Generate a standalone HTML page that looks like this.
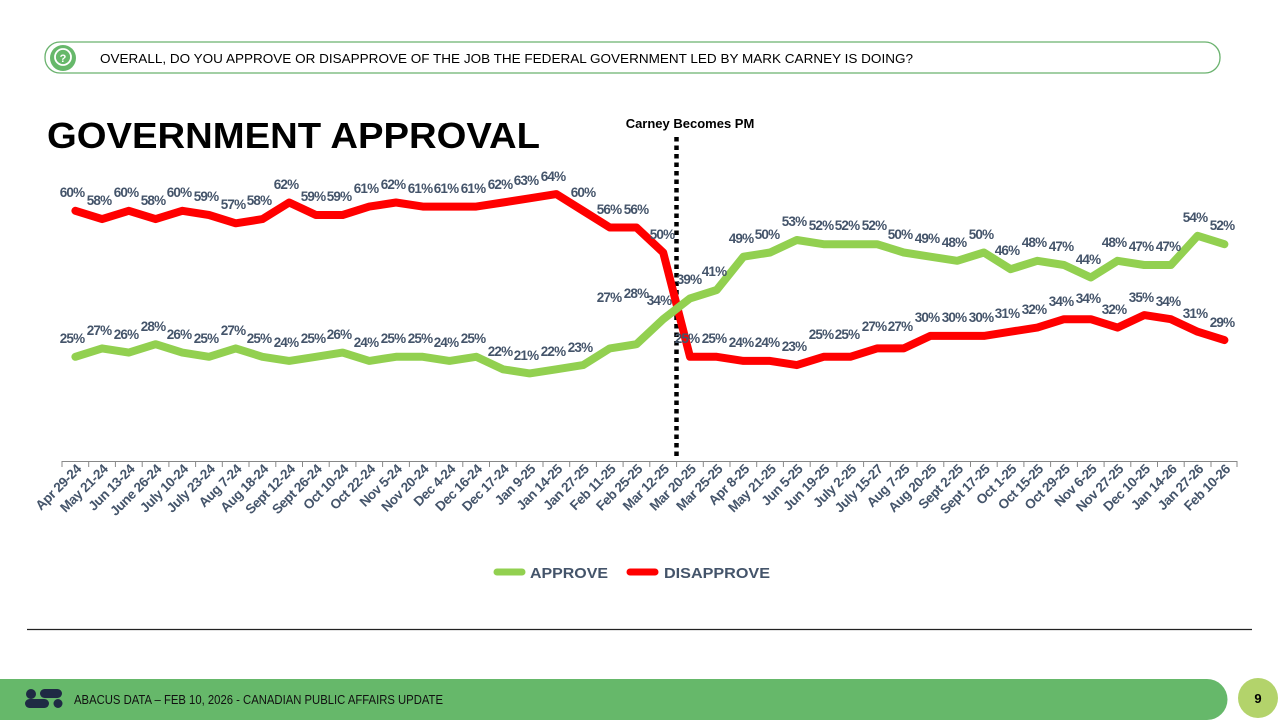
<!DOCTYPE html>
<html><head><meta charset="utf-8"><style>
html,body{margin:0;padding:0;background:#fff;width:1280px;height:720px;overflow:hidden}
svg{display:block;font-family:"Liberation Sans",sans-serif}
.l{font-size:13.5px;font-weight:bold;fill:#44546a;text-anchor:middle;letter-spacing:-0.8px}
.a{font-size:13.5px;font-weight:bold;fill:#44546a;text-anchor:end;letter-spacing:-0.4px}
</style></head><body>
<svg width="1280" height="720" viewBox="0 0 1280 720">
<rect x="45" y="42" width="1175" height="31" rx="15" fill="#fff" stroke="#6ab26e" stroke-width="1.3"/>
<circle cx="63" cy="58" r="13" fill="#66b86a"/>
<circle cx="63" cy="57" r="8" fill="none" stroke="#fff" stroke-width="1.8"/>
<text x="63" y="62" font-size="11" font-weight="bold" fill="#fff" text-anchor="middle">?</text>
<text x="100" y="63" font-size="13" fill="#000" textLength="813" lengthAdjust="spacingAndGlyphs">OVERALL, DO YOU APPROVE OR DISAPPROVE OF THE JOB THE FEDERAL GOVERNMENT LED BY MARK CARNEY IS DOING?</text>
<text x="47" y="148" font-size="36" font-weight="bold" fill="#000" textLength="493" lengthAdjust="spacingAndGlyphs">GOVERNMENT APPROVAL</text>
<text x="690" y="128" font-size="13" font-weight="bold" fill="#000" text-anchor="middle">Carney Becomes PM</text>
<line x1="676.5" y1="137" x2="676.5" y2="459" stroke="#000" stroke-width="4.5" stroke-dasharray="4.5 4"/>
<line x1="62" y1="461.5" x2="1237" y2="461.5" stroke="#888" stroke-width="1"/>
<g stroke="#888" stroke-width="1">
<line x1="62" y1="461" x2="62" y2="467"/><line x1="88.7" y1="461" x2="88.7" y2="467"/><line x1="115.4" y1="461" x2="115.4" y2="467"/><line x1="142.2" y1="461" x2="142.2" y2="467"/><line x1="168.9" y1="461" x2="168.9" y2="467"/><line x1="195.6" y1="461" x2="195.6" y2="467"/><line x1="222.3" y1="461" x2="222.3" y2="467"/><line x1="249" y1="461" x2="249" y2="467"/><line x1="275.8" y1="461" x2="275.8" y2="467"/><line x1="302.5" y1="461" x2="302.5" y2="467"/><line x1="329.2" y1="461" x2="329.2" y2="467"/><line x1="355.9" y1="461" x2="355.9" y2="467"/><line x1="382.6" y1="461" x2="382.6" y2="467"/><line x1="409.4" y1="461" x2="409.4" y2="467"/><line x1="436.1" y1="461" x2="436.1" y2="467"/><line x1="462.8" y1="461" x2="462.8" y2="467"/><line x1="489.5" y1="461" x2="489.5" y2="467"/><line x1="516.2" y1="461" x2="516.2" y2="467"/><line x1="543" y1="461" x2="543" y2="467"/><line x1="569.7" y1="461" x2="569.7" y2="467"/><line x1="596.4" y1="461" x2="596.4" y2="467"/><line x1="623.1" y1="461" x2="623.1" y2="467"/><line x1="649.8" y1="461" x2="649.8" y2="467"/><line x1="676.6" y1="461" x2="676.6" y2="467"/><line x1="703.3" y1="461" x2="703.3" y2="467"/><line x1="730" y1="461" x2="730" y2="467"/><line x1="756.7" y1="461" x2="756.7" y2="467"/><line x1="783.4" y1="461" x2="783.4" y2="467"/><line x1="810.2" y1="461" x2="810.2" y2="467"/><line x1="836.9" y1="461" x2="836.9" y2="467"/><line x1="863.6" y1="461" x2="863.6" y2="467"/><line x1="890.3" y1="461" x2="890.3" y2="467"/><line x1="917" y1="461" x2="917" y2="467"/><line x1="943.8" y1="461" x2="943.8" y2="467"/><line x1="970.5" y1="461" x2="970.5" y2="467"/><line x1="997.2" y1="461" x2="997.2" y2="467"/><line x1="1023.9" y1="461" x2="1023.9" y2="467"/><line x1="1050.6" y1="461" x2="1050.6" y2="467"/><line x1="1077.4" y1="461" x2="1077.4" y2="467"/><line x1="1104.1" y1="461" x2="1104.1" y2="467"/><line x1="1130.8" y1="461" x2="1130.8" y2="467"/><line x1="1157.5" y1="461" x2="1157.5" y2="467"/><line x1="1184.2" y1="461" x2="1184.2" y2="467"/><line x1="1211" y1="461" x2="1211" y2="467"/><line x1="1237" y1="461" x2="1237" y2="467"/>
</g>
<g>
<text class="a" transform="translate(82,470) rotate(-45)">Apr 29-24</text>
<text class="a" transform="translate(108.7,470) rotate(-45)">May 21-24</text>
<text class="a" transform="translate(135.4,470) rotate(-45)">Jun 13-24</text>
<text class="a" transform="translate(162.2,470) rotate(-45)">June 26-24</text>
<text class="a" transform="translate(188.9,470) rotate(-45)">July 10-24</text>
<text class="a" transform="translate(215.6,470) rotate(-45)">July 23-24</text>
<text class="a" transform="translate(242.3,470) rotate(-45)">Aug 7-24</text>
<text class="a" transform="translate(269,470) rotate(-45)">Aug 18-24</text>
<text class="a" transform="translate(295.8,470) rotate(-45)">Sept 12-24</text>
<text class="a" transform="translate(322.5,470) rotate(-45)">Sept 26-24</text>
<text class="a" transform="translate(349.2,470) rotate(-45)">Oct 10-24</text>
<text class="a" transform="translate(375.9,470) rotate(-45)">Oct 22-24</text>
<text class="a" transform="translate(402.6,470) rotate(-45)">Nov 5-24</text>
<text class="a" transform="translate(429.4,470) rotate(-45)">Nov 20-24</text>
<text class="a" transform="translate(456.1,470) rotate(-45)">Dec 4-24</text>
<text class="a" transform="translate(482.8,470) rotate(-45)">Dec 16-24</text>
<text class="a" transform="translate(509.5,470) rotate(-45)">Dec 17-24</text>
<text class="a" transform="translate(536.2,470) rotate(-45)">Jan 9-25</text>
<text class="a" transform="translate(563,470) rotate(-45)">Jan 14-25</text>
<text class="a" transform="translate(589.7,470) rotate(-45)">Jan 27-25</text>
<text class="a" transform="translate(616.4,470) rotate(-45)">Feb 11-25</text>
<text class="a" transform="translate(643.1,470) rotate(-45)">Feb 25-25</text>
<text class="a" transform="translate(669.8,470) rotate(-45)">Mar 12-25</text>
<text class="a" transform="translate(696.6,470) rotate(-45)">Mar 20-25</text>
<text class="a" transform="translate(723.3,470) rotate(-45)">Mar 25-25</text>
<text class="a" transform="translate(750,470) rotate(-45)">Apr 8-25</text>
<text class="a" transform="translate(776.7,470) rotate(-45)">May 21-25</text>
<text class="a" transform="translate(803.4,470) rotate(-45)">Jun 5-25</text>
<text class="a" transform="translate(830.2,470) rotate(-45)">Jun 19-25</text>
<text class="a" transform="translate(856.9,470) rotate(-45)">July 2-25</text>
<text class="a" transform="translate(883.6,470) rotate(-45)">July 15-27</text>
<text class="a" transform="translate(910.3,470) rotate(-45)">Aug 7-25</text>
<text class="a" transform="translate(937,470) rotate(-45)">Aug 20-25</text>
<text class="a" transform="translate(963.8,470) rotate(-45)">Sept 2-25</text>
<text class="a" transform="translate(990.5,470) rotate(-45)">Sept 17-25</text>
<text class="a" transform="translate(1017.2,470) rotate(-45)">Oct 1-25</text>
<text class="a" transform="translate(1043.9,470) rotate(-45)">Oct 15-25</text>
<text class="a" transform="translate(1070.6,470) rotate(-45)">Oct 29-25</text>
<text class="a" transform="translate(1097.4,470) rotate(-45)">Nov 6-25</text>
<text class="a" transform="translate(1124.1,470) rotate(-45)">Nov 27-25</text>
<text class="a" transform="translate(1150.8,470) rotate(-45)">Dec 10-25</text>
<text class="a" transform="translate(1177.5,470) rotate(-45)">Jan 14-26</text>
<text class="a" transform="translate(1204.2,470) rotate(-45)">Jan 27-26</text>
<text class="a" transform="translate(1231,470) rotate(-45)">Feb 10-26</text>
</g>
<polyline fill="none" stroke="#ff0000" stroke-width="8" stroke-linejoin="round" stroke-linecap="round" points="75.4,210.8 102.1,219.1 128.8,210.8 155.6,219.1 182.3,210.8 209,215 235.7,223.3 262.4,219.1 289.2,202.5 315.9,215 342.6,215 369.3,206.6 396,202.5 422.8,206.6 449.5,206.6 476.2,206.6 502.9,202.5 529.6,198.3 556.4,194.1 583.1,210.8 609.8,227.5 636.5,227.5 663.2,252.5 690,356.8 716.7,356.8 743.4,360.9 770.1,360.9 796.8,365.1 823.6,356.8 850.3,356.8 877,348.4 903.7,348.4 930.4,335.9 957.2,335.9 983.9,335.9 1010.6,331.7 1037.3,327.6 1064,319.2 1090.8,319.2 1117.5,327.6 1144.2,315.1 1170.9,319.2 1197.6,331.7 1224.4,340.1"/>
<polyline fill="none" stroke="#92d050" stroke-width="8" stroke-linejoin="round" stroke-linecap="round" points="75.4,356.8 102.1,348.4 128.8,352.6 155.6,344.2 182.3,352.6 209,356.8 235.7,348.4 262.4,356.8 289.2,360.9 315.9,356.8 342.6,352.6 369.3,360.9 396,356.8 422.8,356.8 449.5,360.9 476.2,356.8 502.9,369.3 529.6,373.4 556.4,369.3 583.1,365.1 609.8,348.4 636.5,344.2 663.2,319.2 690,298.4 716.7,290 743.4,256.7 770.1,252.5 796.8,240 823.6,244.2 850.3,244.2 877,244.2 903.7,252.5 930.4,256.7 957.2,260.8 983.9,252.5 1010.6,269.2 1037.3,260.8 1064,265 1090.8,277.5 1117.5,260.8 1144.2,265 1170.9,265 1197.6,235.8 1224.4,244.2"/>
<g>
<text class="l" x="72" y="197">60%</text><text class="l" x="99" y="205">58%</text><text class="l" x="126" y="197">60%</text><text class="l" x="153" y="205">58%</text><text class="l" x="179" y="197">60%</text><text class="l" x="206" y="201">59%</text><text class="l" x="233" y="209">57%</text><text class="l" x="259" y="205">58%</text><text class="l" x="286" y="189">62%</text><text class="l" x="313" y="201">59%</text><text class="l" x="339" y="201">59%</text><text class="l" x="366" y="193">61%</text><text class="l" x="393" y="189">62%</text><text class="l" x="420" y="193">61%</text><text class="l" x="446" y="193">61%</text><text class="l" x="473" y="193">61%</text><text class="l" x="500" y="189">62%</text><text class="l" x="526" y="185">63%</text><text class="l" x="553" y="181">64%</text><text class="l" x="583" y="197">60%</text><text class="l" x="609" y="214">56%</text><text class="l" x="636" y="214">56%</text><text class="l" x="662" y="239">50%</text><text class="l" x="687" y="343">25%</text><text class="l" x="714" y="343">25%</text><text class="l" x="741" y="347">24%</text><text class="l" x="767" y="347">24%</text><text class="l" x="794" y="351">23%</text><text class="l" x="821" y="339">25%</text><text class="l" x="847" y="339">25%</text><text class="l" x="874" y="331">27%</text><text class="l" x="900" y="331">27%</text><text class="l" x="927" y="322">30%</text><text class="l" x="954" y="322">30%</text><text class="l" x="981" y="322">30%</text><text class="l" x="1007" y="318">31%</text><text class="l" x="1034" y="314">32%</text><text class="l" x="1061" y="306">34%</text><text class="l" x="1088" y="303">34%</text><text class="l" x="1114" y="314">32%</text><text class="l" x="1141" y="302">35%</text><text class="l" x="1168" y="306">34%</text><text class="l" x="1195" y="318">31%</text><text class="l" x="1222" y="327">29%</text>
<text class="l" x="72" y="343">25%</text><text class="l" x="99" y="335">27%</text><text class="l" x="126" y="339">26%</text><text class="l" x="153" y="331">28%</text><text class="l" x="179" y="339">26%</text><text class="l" x="206" y="343">25%</text><text class="l" x="233" y="335">27%</text><text class="l" x="259" y="343">25%</text><text class="l" x="286" y="347">24%</text><text class="l" x="313" y="343">25%</text><text class="l" x="339" y="339">26%</text><text class="l" x="366" y="347">24%</text><text class="l" x="393" y="343">25%</text><text class="l" x="420" y="343">25%</text><text class="l" x="446" y="347">24%</text><text class="l" x="473" y="343">25%</text><text class="l" x="500" y="356">22%</text><text class="l" x="526" y="360">21%</text><text class="l" x="553" y="356">22%</text><text class="l" x="580" y="352">23%</text><text class="l" x="609" y="302">27%</text><text class="l" x="636" y="298">28%</text><text class="l" x="659" y="305">34%</text><text class="l" x="689" y="284">39%</text><text class="l" x="714" y="276">41%</text><text class="l" x="741" y="243">49%</text><text class="l" x="767" y="239">50%</text><text class="l" x="794" y="226">53%</text><text class="l" x="821" y="230">52%</text><text class="l" x="847" y="230">52%</text><text class="l" x="874" y="230">52%</text><text class="l" x="900" y="239">50%</text><text class="l" x="927" y="243">49%</text><text class="l" x="954" y="247">48%</text><text class="l" x="981" y="239">50%</text><text class="l" x="1007" y="255">46%</text><text class="l" x="1034" y="247">48%</text><text class="l" x="1061" y="251">47%</text><text class="l" x="1088" y="264">44%</text><text class="l" x="1114" y="247">48%</text><text class="l" x="1141" y="251">47%</text><text class="l" x="1168" y="251">47%</text><text class="l" x="1195" y="222">54%</text><text class="l" x="1222" y="230">52%</text>
</g>
<line x1="497" y1="572" x2="522" y2="572" stroke="#92d050" stroke-width="7" stroke-linecap="round"/>
<text x="530" y="578" font-size="15" font-weight="bold" fill="#44546a" textLength="78" lengthAdjust="spacingAndGlyphs">APPROVE</text>
<line x1="630" y1="572" x2="655" y2="572" stroke="#ff0000" stroke-width="7" stroke-linecap="round"/>
<text x="664" y="578" font-size="15" font-weight="bold" fill="#44546a" textLength="106" lengthAdjust="spacingAndGlyphs">DISAPPROVE</text>
<line x1="27" y1="629.5" x2="1252" y2="629.5" stroke="#222" stroke-width="1.3"/>
<path d="M0,679 H1207 A20.5,20.5 0 0 1 1207,720 H0 Z" fill="#66b86a"/>
<circle cx="31" cy="694" r="5" fill="#1f2a44"/>
<rect x="40" y="689" width="22" height="9" rx="4.5" fill="#1f2a44"/>
<rect x="25" y="699" width="24" height="9" rx="4.5" fill="#1f2a44"/>
<circle cx="58" cy="703.5" r="4.5" fill="#1f2a44"/>
<text x="74" y="704" font-size="12.5" fill="#111" textLength="369" lengthAdjust="spacingAndGlyphs">ABACUS DATA – FEB 10, 2026 - CANADIAN PUBLIC AFFAIRS UPDATE</text>
<circle cx="1258" cy="698" r="20" fill="#b3d36b"/>
<text x="1258" y="703" font-size="13" font-weight="bold" fill="#000" text-anchor="middle">9</text>
</svg>
</body></html>
